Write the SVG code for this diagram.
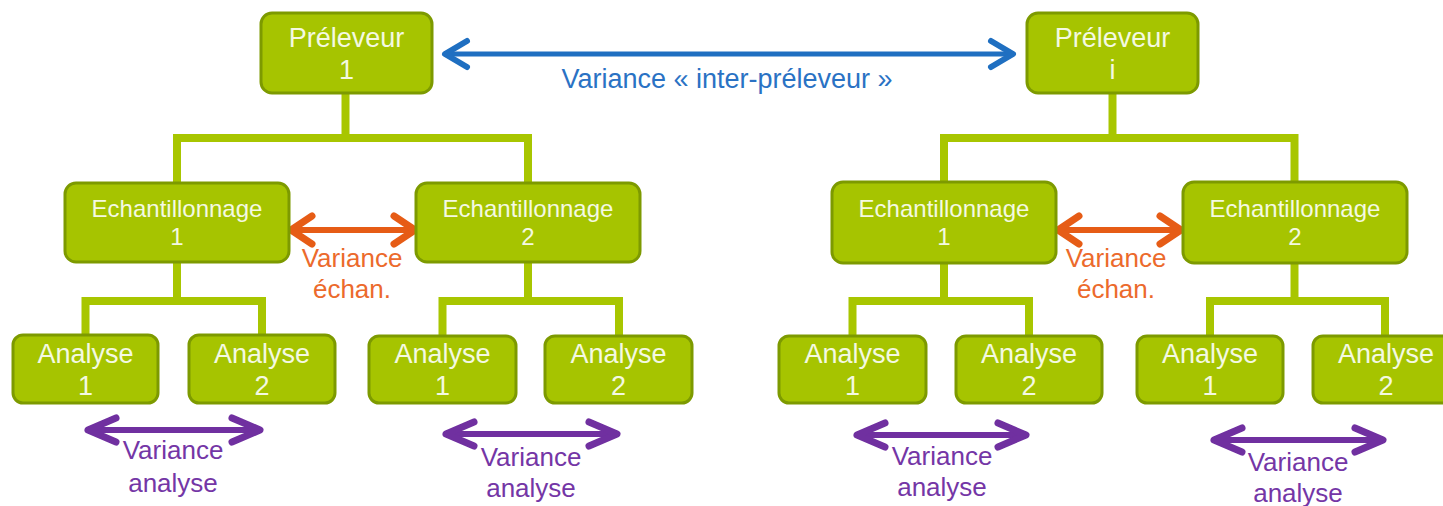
<svg xmlns="http://www.w3.org/2000/svg" width="1443" height="506" viewBox="0 0 1443 506">
  <defs>
    <style>
      .box { fill: #a6c400; stroke: #7d9a00; stroke-width: 3; }
      .lbl { font-family: "Liberation Sans", Arial, sans-serif; font-size: 27px; fill: #f4f9e2; text-anchor: middle; }
      .lbl.small { font-size: 24px; }
      .wire { fill: none; stroke: #a8c600; stroke-width: 8; stroke-linejoin: miter; }
      .arr { fill: none; stroke-width: 6; }
      .blue { stroke: #1f6fc1; stroke-width: 5; marker-start: url(#headBlue); marker-end: url(#headBlue); }
      .orange { stroke: #e65c16; marker-start: url(#headOrange); marker-end: url(#headOrange); }
      .purple { stroke: #7030a0; marker-start: url(#headPurple); marker-end: url(#headPurple); }
      .note { font-family: "Liberation Sans", Arial, sans-serif; font-size: 26px; text-anchor: middle; }
      .note.blue-t { fill: #2a72c4; font-size: 27px; }
      .note.orange-t { fill: #ec6a2c; }
      .note.purple-t { fill: #7436a6; }
    </style>
    <!-- open chevron arrowheads, tip sits a few px past the line end -->
    <marker id="headBlue" markerUnits="userSpaceOnUse" viewBox="-30 -20 40 40" markerWidth="40" markerHeight="40" refX="0" refY="0" orient="auto-start-reverse">
      <path d="M-20,-13 L2,0 L-20,13" fill="none" stroke="#1f6fc1" stroke-width="6" stroke-linecap="round" stroke-linejoin="round"/>
    </marker>
    <marker id="headOrange" markerUnits="userSpaceOnUse" viewBox="-30 -20 40 40" markerWidth="40" markerHeight="40" refX="0" refY="0" orient="auto-start-reverse">
      <path d="M-19,-14 L2,0 L-19,14" fill="none" stroke="#e65c16" stroke-width="7" stroke-linecap="round" stroke-linejoin="round"/>
    </marker>
    <marker id="headPurple" markerUnits="userSpaceOnUse" viewBox="-34 -20 40 40" markerWidth="40" markerHeight="40" refX="0" refY="0" orient="auto-start-reverse">
      <path d="M-26,-12 L2,0 L-26,12" fill="none" stroke="#7030a0" stroke-width="7" stroke-linecap="round" stroke-linejoin="round"/>
    </marker>
  </defs>

  <rect width="1443" height="506" fill="#ffffff"/>

  <!-- tree connectors -->
  <g id="connectors">
    <path class="wire" d="M345.5,93 V138"/>
    <path class="wire" d="M177,183 V138 H528 V183"/>
    <path class="wire" d="M177,262 V301"/>
    <path class="wire" d="M85.5,335 V301 H262 V335"/>
    <path class="wire" d="M528,262 V301"/>
    <path class="wire" d="M442.5,336 V301 H619 V336"/>

    <path class="wire" d="M1112.5,93 V138"/>
    <path class="wire" d="M944,182 V138 H1294.5 V182"/>
    <path class="wire" d="M944,263 V301"/>
    <path class="wire" d="M852.5,336 V301 H1029 V336"/>
    <path class="wire" d="M1294.5,263 V301"/>
    <path class="wire" d="M1210,336 V301 H1385 V336"/>
  </g>

  <!-- variance arrows -->
  <g id="variance-arrows">
    <line class="arr blue" x1="447" y1="54" x2="1011" y2="54"/>
    <line class="arr orange" x1="293" y1="230" x2="413" y2="230"/>
    <line class="arr orange" x1="1060" y1="230" x2="1179" y2="230"/>
    <line class="arr purple" x1="90" y1="430" x2="258" y2="430"/>
    <line class="arr purple" x1="448" y1="434" x2="615" y2="434"/>
    <line class="arr purple" x1="859" y1="435" x2="1024" y2="435"/>
    <line class="arr purple" x1="1216" y1="440" x2="1381" y2="440"/>
  </g>

  <!-- sampler 1 branch -->
  <g id="preleveur-1">
    <rect class="box" x="261" y="13" width="171" height="80" rx="11"/>
    <text class="lbl" x="346.5" y="47">Préleveur</text>
    <text class="lbl" x="346.5" y="79">1</text>
  </g>
  <g id="p1-echantillonnage-1">
    <rect class="box" x="65" y="183" width="224" height="79" rx="11"/>
    <text class="lbl small" x="177" y="217">Echantillonnage</text>
    <text class="lbl small" x="177" y="245">1</text>
  </g>
  <g id="p1-echantillonnage-2">
    <rect class="box" x="416" y="183" width="224" height="79" rx="11"/>
    <text class="lbl small" x="528" y="217">Echantillonnage</text>
    <text class="lbl small" x="528" y="245">2</text>
  </g>
  <g id="p1-e1-analyse-1">
    <rect class="box" x="13" y="335" width="145" height="68" rx="10"/>
    <text class="lbl" x="85.5" y="363">Analyse</text>
    <text class="lbl" x="85.5" y="395">1</text>
  </g>
  <g id="p1-e1-analyse-2">
    <rect class="box" x="189" y="335" width="146" height="68" rx="10"/>
    <text class="lbl" x="262" y="363">Analyse</text>
    <text class="lbl" x="262" y="395">2</text>
  </g>
  <g id="p1-e2-analyse-1">
    <rect class="box" x="369" y="336" width="147" height="67" rx="10"/>
    <text class="lbl" x="442.5" y="363">Analyse</text>
    <text class="lbl" x="442.5" y="395">1</text>
  </g>
  <g id="p1-e2-analyse-2">
    <rect class="box" x="545" y="336" width="147" height="67" rx="10"/>
    <text class="lbl" x="618.5" y="363">Analyse</text>
    <text class="lbl" x="618.5" y="395">2</text>
  </g>

  <!-- sampler i branch -->
  <g id="preleveur-i">
    <rect class="box" x="1027" y="13" width="171" height="80" rx="11"/>
    <text class="lbl" x="1112.5" y="47">Préleveur</text>
    <text class="lbl" x="1112.5" y="79">i</text>
  </g>
  <g id="pi-echantillonnage-1">
    <rect class="box" x="832" y="182" width="224" height="81" rx="11"/>
    <text class="lbl small" x="944" y="217">Echantillonnage</text>
    <text class="lbl small" x="944" y="245">1</text>
  </g>
  <g id="pi-echantillonnage-2">
    <rect class="box" x="1183" y="182" width="224" height="81" rx="11"/>
    <text class="lbl small" x="1295" y="217">Echantillonnage</text>
    <text class="lbl small" x="1295" y="245">2</text>
  </g>
  <g id="pi-e1-analyse-1">
    <rect class="box" x="779" y="336" width="147" height="67" rx="10"/>
    <text class="lbl" x="852.5" y="363">Analyse</text>
    <text class="lbl" x="852.5" y="395">1</text>
  </g>
  <g id="pi-e1-analyse-2">
    <rect class="box" x="956" y="336" width="146" height="67" rx="10"/>
    <text class="lbl" x="1029" y="363">Analyse</text>
    <text class="lbl" x="1029" y="395">2</text>
  </g>
  <g id="pi-e2-analyse-1">
    <rect class="box" x="1137" y="336" width="146" height="67" rx="10"/>
    <text class="lbl" x="1210" y="363">Analyse</text>
    <text class="lbl" x="1210" y="395">1</text>
  </g>
  <g id="pi-e2-analyse-2">
    <rect class="box" x="1313" y="336" width="147" height="67" rx="10"/>
    <text class="lbl" x="1386" y="363">Analyse</text>
    <text class="lbl" x="1386" y="395">2</text>
  </g>

  <!-- variance labels -->
  <g id="variance-labels">
    <text class="note blue-t" x="727" y="88">Variance « inter-préleveur »</text>
    <text class="note orange-t" x="352" y="267">Variance</text>
    <text class="note orange-t" x="352" y="298">échan.</text>
    <text class="note orange-t" x="1116" y="267">Variance</text>
    <text class="note orange-t" x="1116" y="298">échan.</text>
    <text class="note purple-t" x="173" y="459">Variance</text>
    <text class="note purple-t" x="173" y="492">analyse</text>
    <text class="note purple-t" x="531" y="466">Variance</text>
    <text class="note purple-t" x="531" y="497">analyse</text>
    <text class="note purple-t" x="942" y="465">Variance</text>
    <text class="note purple-t" x="942" y="496">analyse</text>
    <text class="note purple-t" x="1298" y="471">Variance</text>
    <text class="note purple-t" x="1298" y="502">analyse</text>
  </g>
</svg>
